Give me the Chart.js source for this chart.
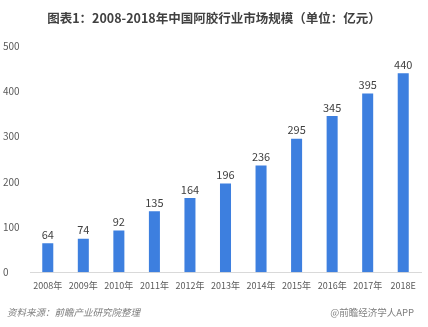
<!DOCTYPE html>
<html>
<head>
<meta charset="utf-8">
<script src="https://cdn.jsdelivr.net/npm/chart.js@4"></script>
<style>
  html, body { margin: 0; padding: 0; background: #fff; }
  #wrap { position: relative; width: 428px; height: 327px; overflow: hidden; }
  #title { position: absolute; top: 8px; left: 0; width: 428px; text-align: center;
    font: bold 12.5px 'Noto Sans CJK SC', sans-serif; color: #404040; }
  .foot { position: absolute; top: 305px; font: 9.5px 'Noto Sans CJK SC', sans-serif; color: #7f7f7f; }
  #src { left: 7px; font-style: italic; }
  #brand { right: 14px; }
</style>
</head>
<body>
<div id="wrap">
  <canvas id="chart" width="428" height="327"></canvas>
  <div id="title">图表1：2008-2018年中国阿胶行业市场规模（单位：亿元）</div>
  <div class="foot" id="src">资料来源：前瞻产业研究院整理</div>
  <div class="foot" id="brand">@前瞻经济学人APP</div>
</div>
<script>
const years = ['2008年','2009年','2010年','2011年','2012年','2013年','2014年','2015年','2016年','2017年','2018E'];
const marketSize = [64, 74, 92, 135, 164, 196, 236, 295, 345, 395, 440];
const yTicks = [0, 100, 200, 300, 400, 500];

// value labels above bars
const barLabels = {
  id: 'barLabels',
  afterDatasetsDraw(chart) {
    const c = chart.ctx;
    const meta = chart.getDatasetMeta(0);
    c.save();
    c.font = "11px 'Noto Sans CJK SC', sans-serif";
    c.fillStyle = '#404040';
    c.textAlign = 'center';
    c.textBaseline = 'bottom';
    meta.data.forEach((bar, i) => {
      c.fillText(marketSize[i], bar.x, bar.y - 3);
    });
    c.restore();
  }
};

new Chart(document.getElementById('chart'), {
  type: 'bar',
  data: {
    labels: years,
    datasets: [{
      data: marketSize,
      backgroundColor: '#3d7fdf',
      categoryPercentage: 1,
      barPercentage: 0.31
    }]
  },
  plugins: [barLabels],
  options: {
    responsive: false,
    animation: false,
    layout: { padding: { top: 46, left: 3, right: 7, bottom: 28 } },
    plugins: { legend: { display: false }, tooltip: { enabled: false } },
    scales: {
      x: {
        grid: { display: false, drawTicks: false },
        border: { display: true, color: '#d9d9d9' },
        ticks: { color: '#595959', padding: 8, maxRotation: 0, autoSkip: false,
                 font: { family: "'Noto Sans CJK SC'", size: 9 } }
      },
      y: {
        min: 0, max: 500,
        afterBuildTicks: s => { s.ticks = yTicks.map(v => ({ value: v })); },
        afterFit: s => { s.width = 27; },
        grid: { display: false },
        border: { display: false },
        ticks: { color: '#595959', crossAlign: 'far',
                 font: { family: "'Noto Sans CJK SC'", size: 10 } }
      }
    }
  }
});
</script>
</body>
</html>
